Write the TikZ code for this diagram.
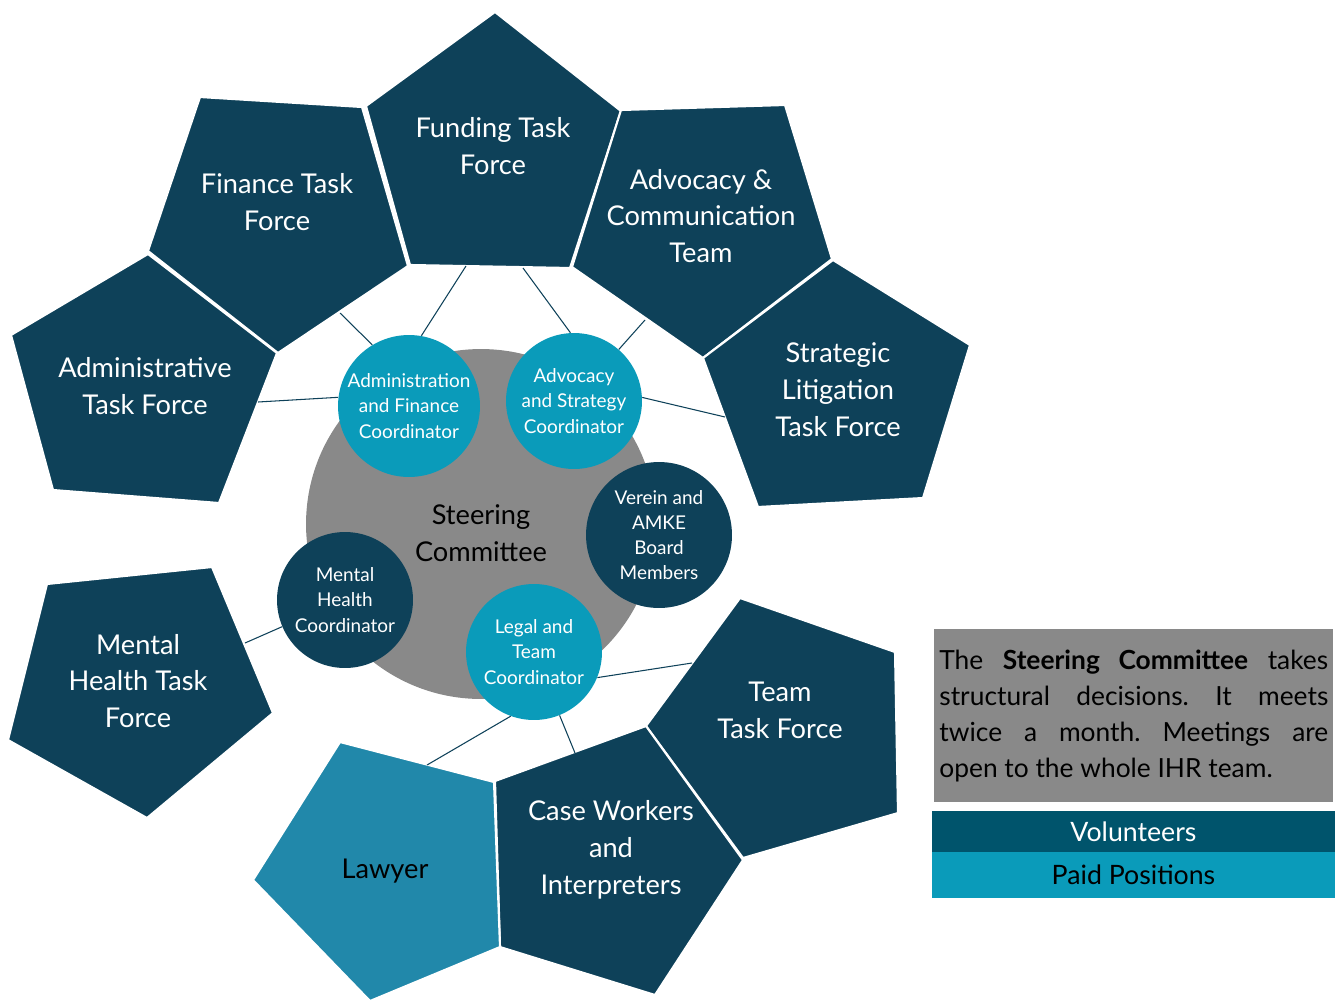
\documentclass[tikz,border=0pt]{standalone}
\usepackage{fontspec}
\setmainfont{Lato}
\usetikzlibrary{positioning}
\definecolor{navy}{HTML}{0E4159}
\definecolor{paidc}{HTML}{0A9BBA}
\definecolor{lawc}{HTML}{2188AA}
\definecolor{volc}{HTML}{00546C}
\definecolor{grayc}{HTML}{898989}
\tikzset{pent/.style={fill=navy, draw=white, line width=1.2pt}}
\tikzset{ptxt/.style={align=center, text=white, font=\fontsize{15.5}{21}\selectfont}}
\tikzset{coord/.style={circle, fill=paidc, text=white, inner sep=0pt, minimum size=2.72cm, align=center, font=\fontsize{10.8}{14.3}\selectfont}}
\tikzset{link/.style={draw=navy, line width=0.6pt}}
\tikzset{bar/.style={minimum width=8.06cm, inner sep=0pt, outer sep=0pt, font=\fontsize{15.2}{20.4}\selectfont}}

\begin{document}
\frenchspacing
\begin{tikzpicture}[x=0.02cm,y=-0.02cm]
\useasboundingbox (0,0) rectangle (1338,1001);

\node (steer) [circle, fill=grayc, minimum size=7cm, inner sep=0pt] at (481,524) {};
\node (steer-t) [align=center, font=\fontsize{15.5}{21}\selectfont] at (481,533) {Steering\\Committee};

\path[pent] (495,12) -- (621,111) -- (570,268) -- (410,265) -- (366,106) -- cycle;
\path[pent] (200,97) -- (362,107) -- (408,266) -- (278,353) -- (148,251) -- cycle;
\path[pent] (148,254) -- (277,353) -- (219,503) -- (53,490) -- (11,335) -- cycle;
\path[pent] (621,110) -- (785,105) -- (832,259) -- (703,358) -- (572,267) -- cycle;
\path[pent] (833,260) -- (970,345) -- (923,498) -- (758,507) -- (703,358) -- cycle;
\path[pent] (47,584) -- (212,567) -- (273,713) -- (147,818) -- (8,740) -- cycle;
\path[pent] (740,598) -- (895,652) -- (898,813) -- (743,858) -- (646,726) -- cycle;
\path[pent] (495,781) -- (646,726) -- (743,860) -- (655,995) -- (500,947) -- cycle;
\path[pent, fill=lawc] (340,742) -- (494,782) -- (500,947) -- (370,1001) -- (253,880) -- cycle;

\node (fund) [ptxt] at (493,146) {Funding Task\\Force};
\node (fin) [ptxt] at (277,202) {Finance Task\\Force};
\node (adm) [ptxt] at (145,386) {Administrative\\Task Force};
\node (adv) [ptxt] at (701,216) {Advocacy \&\\Communication\\Team};
\node (strat) [ptxt] at (838,390) {Strategic\\Litigation\\Task Force};
\node (mht) [ptxt] at (138,681) {Mental\\Health Task\\Force};
\node (team) [ptxt] at (780,710) {Team\\Task Force};
\node (case) [ptxt] at (611,850) {Case Workers\\and\\Interpreters};
\node (law) [ptxt, text=black] at (385,871) {Lawyer};

\node (afc) [coord, minimum size=2.84cm] at (409,406) {Administration\\and Finance\\Coordinator};
\node (asc) [coord] at (574,401) {Advocacy\\and Strategy\\Coordinator};
\node (ver) [coord, fill=navy, minimum size=2.92cm] at (659,535) {Verein and\\AMKE\\Board\\Members};
\node (mhc) [coord, fill=navy] at (345,600) {Mental\\Health\\Coordinator};
\node (ltc) [coord] at (534,652) {Legal and\\Team\\Coordinator};

\coordinate (adm-c) at (258,402);
\coordinate (fin-c) at (340,313);
\coordinate (fund-c1) at (466,266);
\coordinate (fund-c2) at (523,268);
\coordinate (adv-c) at (645,320);
\coordinate (strat-c) at (725,417);
\coordinate (mht-c) at (245,643);
\coordinate (team-c) at (692,663);
\coordinate (case-c) at (575,753);
\coordinate (law-c) at (427,765);

\draw[link] (adm-c) -- (afc.173);
\draw[link] (fin-c) -- (afc.121);
\draw[link] (fund-c1) -- (afc.80);
\draw[link] (fund-c2) -- (asc.93);
\draw[link] (adv-c) -- (asc.49);
\draw[link] (strat-c) -- (asc.3);
\draw[link] (mht-c) -- (mhc.203);
\draw[link] (team-c) -- (ltc.338);
\draw[link] (case-c) -- (ltc.292);
\draw[link] (law-c) -- (ltc.250);

\node (note) [fill=grayc, anchor=north west, text width=7.78cm, minimum height=3.46cm, inner sep=0.1cm, align=justify, font=\fontsize{15}{20.4}\selectfont] at (934,629) {The \textbf{Steering Committee} takes\linebreak structural decisions. It meets\linebreak twice a month. Meetings are\linebreak open to the whole IHR team.};
\node (vol) [bar, fill=volc, text=white, minimum height=0.82cm, anchor=north west] at (932,811) {Volunteers};
\node (paid) [bar, fill=paidc, minimum height=0.92cm, below=0pt of vol] {Paid Positions};
\end{tikzpicture}
\end{document}
